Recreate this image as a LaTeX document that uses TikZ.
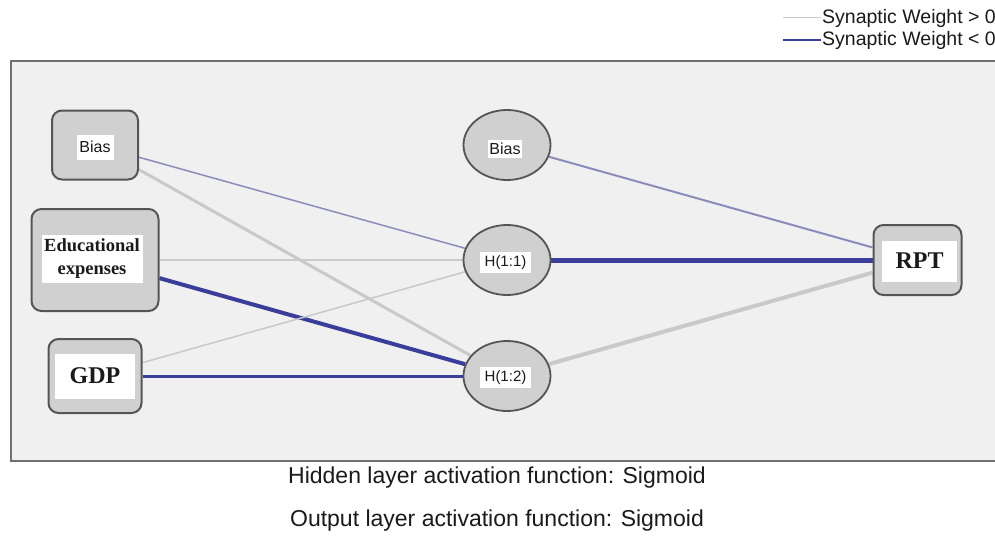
\documentclass[tikz,border=0pt]{standalone}
\usepackage{fontspec}
\setmainfont{Liberation Serif}
\setsansfont{Liberation Sans}
\usetikzlibrary{shapes.geometric}
\pgfdeclarelayer{back}
\pgfdeclarelayer{edges}
\pgfsetlayers{back,edges,main}
\definecolor{bgc}{HTML}{F0F0F0}
\definecolor{framec}{HTML}{707070}
\definecolor{nodefill}{HTML}{D0D0D0}
\definecolor{nodeedge}{HTML}{555555}
\definecolor{poscol}{HTML}{C9C9C9}
\definecolor{negdark}{HTML}{3A3E9A}
\definecolor{neglight}{HTML}{8A8CBC}
\definecolor{txt}{HTML}{1A1A1A}
\tikzset{
  unit/.style={draw=nodeedge, line width=2pt, fill=nodefill, rounded corners=10pt, inner sep=0pt},
  neuron/.style={ellipse, draw=nodeedge, line width=1.8pt, fill=nodefill, minimum width=87pt, minimum height=70pt, inner sep=0pt},
  lab/.style={fill=white, inner sep=0pt, text=txt},
  sflab/.style={lab, font=\sffamily\fontsize{#1}{#1}\selectfont},
  serlab/.style={lab, font=\bfseries\fontsize{#1}{#1}\selectfont, align=center},
  wpos/.style={draw=poscol, line width=#1},
  wneg/.style={draw=negdark, line width=#1},
  wnegl/.style={draw=neglight, line width=#1},
  caption/.style={font=\sffamily\fontsize{23}{23}\selectfont, text=txt},
  legtext/.style={anchor=west, inner sep=0pt, font=\sffamily\fontsize{19.5}{19.5}\selectfont, text=txt}
}
\begin{document}
\begin{tikzpicture}[x=1pt,y=-1pt]
\useasboundingbox (0,0) rectangle (995,538);
% frame
\begin{pgfonlayer}{back}
\fill[bgc] (11,61) rectangle (1000,461);
\draw[framec, line width=2pt] (1000,61) -- (11,61) -- (11,461) -- (1000,461);
\end{pgfonlayer}
% input layer
\node[unit, minimum width=86pt, minimum height=69pt] (b1) at (95,145) {};
\node[sflab=16, minimum width=37pt, minimum height=25pt] (b1t) at (95,147) {Bias};
\node[unit, minimum width=127pt, minimum height=102pt] (edu) at (95,260) {};
\node[serlab=18.5, minimum width=101pt, minimum height=48pt] (edut) at (92,259) {Educational\\[4.5pt]expenses};
\node[unit, minimum width=93pt, minimum height=74pt] (gdp) at (95,376) {};
\node[serlab=24, minimum width=80pt, minimum height=45pt] (gdpt) at (95,376) {GDP};
% hidden layer
\node[neuron] (b2) at (507,145) {};
\node[sflab=16, minimum width=34pt, minimum height=18pt] (b2t) at (505,149) {Bias};
\node[neuron] (h11) at (507,260) {};
\node[sflab=15, minimum width=51pt, minimum height=21pt] (h11t) at (505.5,262.5) {H(1:1)};
\node[neuron] (h12) at (507,376) {};
\node[sflab=15, minimum width=51pt, minimum height=21pt] (h12t) at (505.5,377.5) {H(1:2)};
% output
\node[unit, minimum width=88pt, minimum height=70pt] (rpt) at (917.5,260) {};
\node[serlab=24, minimum width=75pt, minimum height=41pt] (rptt) at (919.5,261) {RPT};
% connectors
\begin{pgfonlayer}{edges}
\draw[wnegl=1.5pt] (b1) -- (h11);
\draw[wpos=3pt] (b1) -- (h12);
\draw[wpos=2pt] (edu) -- (h11);
\draw[wneg=4pt] (edu) -- (h12);
\draw[wpos=1.5pt] (gdp) -- (h11);
\draw[wneg=3pt] (gdp) -- (h12);
\draw[wnegl=2pt] (b2) -- (rpt);
\draw[wneg=5pt] (h11) -- (rpt);
\draw[wpos=4pt] (h12) -- (rpt);
\end{pgfonlayer}
% legend
\coordinate (lp1) at (783,17);
\coordinate (lp2) at (821,17);
\coordinate (ln1) at (783,40);
\coordinate (ln2) at (821,40);
\draw[wpos=1pt] (lp1) -- (lp2);
\draw[wneg=2pt] (ln1) -- (ln2);
\node[legtext] (legp) at (822,18) {Synaptic Weight > 0};
\node[legtext] (legn) at (822,40) {Synaptic Weight < 0};
% captions
\node[caption] (cap1) at (497,478) {Hidden layer activation function: Sigmoid};
\node[caption] (cap2) at (497,521) {Output layer activation function: Sigmoid};
\end{tikzpicture}
\end{document}
